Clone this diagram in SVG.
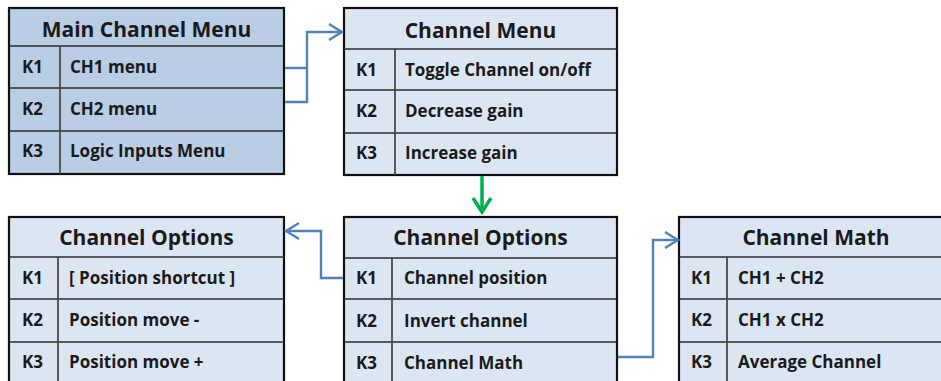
<svg xmlns="http://www.w3.org/2000/svg" width="941" height="381" viewBox="0 0 941 381">
  <style>
    .box { stroke: #111; stroke-width: 2.2; }
    .main { fill: #b9cde5; }
    .sub { fill: #dce6f2; }
    .row { stroke: #2b2b2b; stroke-width: 1.6; fill: none; }
    .col { stroke: #4a4a4a; stroke-width: 1.8; fill: none; }
    .title { font-family: "Open Sans", "Liberation Sans", sans-serif; font-weight: bold; font-size: 21px; fill: #1a1a1a; text-anchor: middle; }
    .t { font-family: "Open Sans", "Liberation Sans", sans-serif; font-weight: bold; font-size: 17px; fill: #1a1a1a; }
    .blue { stroke: #4f81bd; stroke-width: 2.4; fill: none; }
    .green { stroke: #00b050; stroke-width: 3.5; fill: none; }
  </style>
  <defs>
    <marker id="ab" markerUnits="userSpaceOnUse" markerWidth="20" markerHeight="22" refX="15" refY="9" orient="auto" overflow="visible">
      <path d="M2,1 L15,9 L2,17" fill="none" stroke="#4f81bd" stroke-width="2.4"/>
    </marker>
    <marker id="ag" markerUnits="userSpaceOnUse" markerWidth="20" markerHeight="22" refX="15" refY="9" orient="auto" overflow="visible">
      <path d="M1,0 L15,9 L1,18" fill="none" stroke="#00b050" stroke-width="3.5"/>
    </marker>
  </defs>

  <g id="main-channel-menu">
    <rect class="box main" x="9" y="8" width="275" height="166"/>
    <path class="row" d="M9,46 H284 M9,88 H284 M9,131 H284"/>
    <path class="col" d="M60,46 V174"/>
    <text class="title" x="146.5" y="37">Main Channel Menu</text>
    <text class="t" x="22" y="73">K1</text>
    <text class="t" x="70" y="73">CH1 menu</text>
    <text class="t" x="22" y="115">K2</text>
    <text class="t" x="70" y="115">CH2 menu</text>
    <text class="t" x="22" y="157">K3</text>
    <text class="t" x="70" y="157">Logic Inputs Menu</text>
  </g>

  <g id="channel-menu">
    <rect class="box sub" x="344" y="8" width="273" height="167"/>
    <path class="row" d="M344,49 H617 M344,90 H617 M344,133 H617"/>
    <path class="col" d="M395,49 V175"/>
    <text class="title" x="480.5" y="38">Channel Menu</text>
    <text class="t" x="356" y="76">K1</text>
    <text class="t" x="405" y="76">Toggle Channel on/off</text>
    <text class="t" x="356" y="117">K2</text>
    <text class="t" x="405" y="117">Decrease gain</text>
    <text class="t" x="356" y="159">K3</text>
    <text class="t" x="405" y="159">Increase gain</text>
  </g>

  <g id="channel-options-left">
    <rect class="box sub" x="9" y="217" width="275" height="180"/>
    <path class="row" d="M9,257 H284 M9,299 H284 M9,342 H284"/>
    <path class="col" d="M58,257 V397"/>
    <text class="title" x="146.5" y="245">Channel Options</text>
    <text class="t" x="22" y="284">K1</text>
    <text class="t" x="69" y="284">[ Position shortcut ]</text>
    <text class="t" x="22" y="326">K2</text>
    <text class="t" x="69" y="326">Position move -</text>
    <text class="t" x="22" y="368">K3</text>
    <text class="t" x="69" y="368">Position move +</text>
  </g>

  <g id="channel-options">
    <rect class="box sub" x="344" y="217" width="273" height="180"/>
    <path class="row" d="M344,258 H617 M344,299 H617 M344,342 H617"/>
    <path class="col" d="M392,258 V397"/>
    <text class="title" x="480.5" y="245">Channel Options</text>
    <text class="t" x="356" y="284">K1</text>
    <text class="t" x="404" y="284">Channel position</text>
    <text class="t" x="356" y="327">K2</text>
    <text class="t" x="404" y="327">Invert channel</text>
    <text class="t" x="356" y="369">K3</text>
    <text class="t" x="404" y="369">Channel Math</text>
  </g>

  <g id="channel-math">
    <rect class="box sub" x="679" y="217" width="275" height="180"/>
    <path class="row" d="M679,257 H954 M679,299 H954 M679,342 H954"/>
    <path class="col" d="M727,257 V397"/>
    <text class="title" x="816" y="245">Channel Math</text>
    <text class="t" x="691" y="284">K1</text>
    <text class="t" x="738" y="284">CH1 + CH2</text>
    <text class="t" x="691" y="326">K2</text>
    <text class="t" x="738" y="326">CH1 x CH2</text>
    <text class="t" x="691" y="368">K3</text>
    <text class="t" x="738" y="368">Average Channel</text>
  </g>

  <g id="connectors">
    <path class="blue" d="M285,68 H307"/>
    <path class="blue" d="M285,102 H307 V32 H342" marker-end="url(#ab)"/>
    <path class="green" d="M482,176 V212" marker-end="url(#ag)"/>
    <path class="blue" d="M343,278 H321 V231 H286" marker-end="url(#ab)"/>
    <path class="blue" d="M618,357 H653 V240 H678" marker-end="url(#ab)"/>
  </g>
</svg>
